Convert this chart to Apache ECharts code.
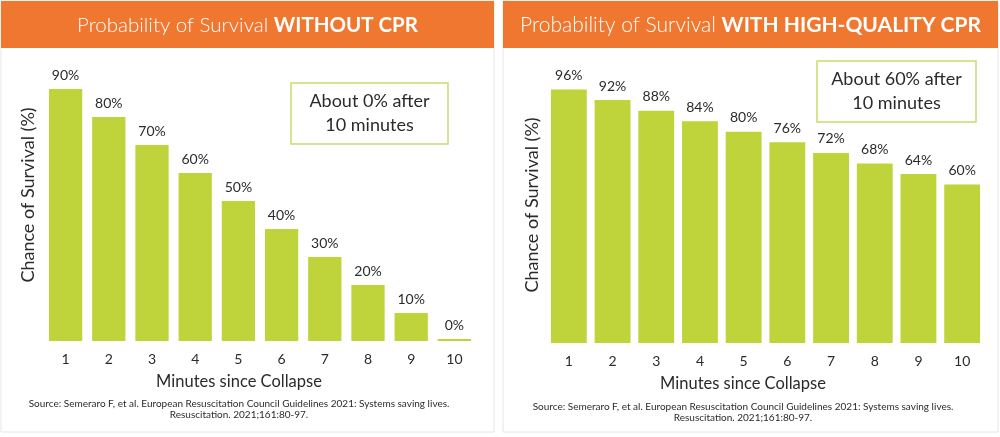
<!DOCTYPE html>
<html><head><meta charset="utf-8">
<script src="https://cdn.jsdelivr.net/npm/echarts@6/dist/echarts.min.js"></script>
<style>html,body{margin:0;padding:0;background:#fff}#c{width:1000px;height:437px}</style>
</head><body><div id="c"></div>
<script>
const minutes = ['1','2','3','4','5','6','7','8','9','10'];
const withoutCPR = [90,80,70,60,50,40,30,20,10,0];
const withCPR = [96,92,88,84,80,76,72,68,64,60];
const titleLeft = ['Probability of Survival ', 'WITHOUT CPR'];
const titleRight = ['Probability of Survival ', 'WITH HIGH-QUALITY CPR'];
const noteLeft = 'About 0% after\n10 minutes';
const noteRight = 'About 60% after\n10 minutes';
const yName = 'Chance of Survival (%)';
const xName = 'Minutes since Collapse';
const source = 'Source: Semeraro F, et al. European Resuscitation Council Guidelines 2021: Systems saving lives.\nResuscitation. 2021;161:80-97.';

const FONT = 'Lato, "Open Sans", sans-serif';
const ORANGE = '#F0772F';
const LIME = '#BFD33A';
const TXT = '#2b2b2b';

const chart = echarts.init(document.getElementById('c'));
function xAxis(gi) {
  return {
    type: 'category', gridIndex: gi, data: minutes,
    axisLine: {show: false}, axisTick: {show: false},
    axisLabel: {color: TXT, fontSize: 14, fontFamily: FONT, margin: 11}
  };
}
function yAxis(gi) {
  return {type: 'value', gridIndex: gi, min: 0, max: 100, show: false};
}
function bars(xi, data, gap) {
  return {
    type: 'bar', xAxisIndex: xi, yAxisIndex: xi, data: data,
    barCategoryGap: gap, barMinHeight: 2,
    itemStyle: {color: LIME},
    label: {show: true, position: 'top', distance: 7, formatter: '{c}%',
      color: TXT, fontSize: 14, fontFamily: FONT},
    silent: true
  };
}
function header(x, w, parts, fs) {
  return [
    {type: 'rect', shape: {x: x, y: 1, width: w, height: 47}, style: {fill: ORANGE}, silent: true},
    {type: 'text', x: x + w / 2, y: 25, style: {
      text: '{a|' + parts[0] + '}{b|' + parts[1] + '}',
      align: 'center', verticalAlign: 'middle',
      rich: {
        a: {fill: '#fff', fontSize: fs, fontFamily: FONT, fontWeight: 300},
        b: {fill: '#fff', fontSize: fs, fontFamily: FONT, fontWeight: 'bold'}
      }}}
  ];
}
function panel(x, w) {
  return {type: 'rect', shape: {x: x, y: 1, width: w, height: 431},
    style: {fill: 'none', stroke: '#e6e6e6', lineWidth: 1}, silent: true};
}
function note(x, y, w, h, text) {
  return [
    {type: 'rect', shape: {x: x, y: y, width: w, height: h},
      style: {fill: '#fff', stroke: '#C9DC6E', lineWidth: 1.5}},
    {type: 'text', x: x + w / 2, y: y + h / 2, style: {text: text, align: 'center',
      verticalAlign: 'middle', fill: TXT, fontSize: 18, fontFamily: FONT, lineHeight: 24}}
  ];
}
function yTitle(x, y) {
  return {type: 'text', x: x, y: y, rotation: Math.PI / 2,
    style: {text: yName, align: 'center', verticalAlign: 'middle', fill: TXT, fontSize: 18, fontFamily: FONT}};
}
function xTitle(x, y) {
  return {type: 'text', x: x, y: y,
    style: {text: xName, align: 'center', verticalAlign: 'middle', fill: TXT, fontSize: 16.5, fontFamily: FONT}};
}
function src(x, y) {
  return {type: 'text', x: x, y: y, style: {text: source, align: 'center', verticalAlign: 'top',
    fill: TXT, fontSize: 10, fontFamily: FONT, lineHeight: 11}};
}

chart.setOption({
  animation: false,
  grid: [
    {left: 44, width: 432, top: 61, height: 280},
    {left: 547, width: 437, top: 79, height: 264}
  ],
  xAxis: [xAxis(0), xAxis(1)],
  yAxis: [yAxis(0), yAxis(1)],
  series: [bars(0, withoutCPR, '23%'), bars(1, withCPR, '18%')],
  graphic: [
    panel(1, 493), panel(503, 495),
    ...header(1, 493, titleLeft, 20.5), ...header(503, 495, titleRight, 21),
    ...note(291, 83, 157, 61, noteLeft), ...note(817, 61, 159, 61, noteRight),
    yTitle(28, 195), yTitle(532, 205),
    xTitle(239, 382), xTitle(743, 384),
    src(239, 398), src(743, 401)
  ]
});
</script></body></html>
